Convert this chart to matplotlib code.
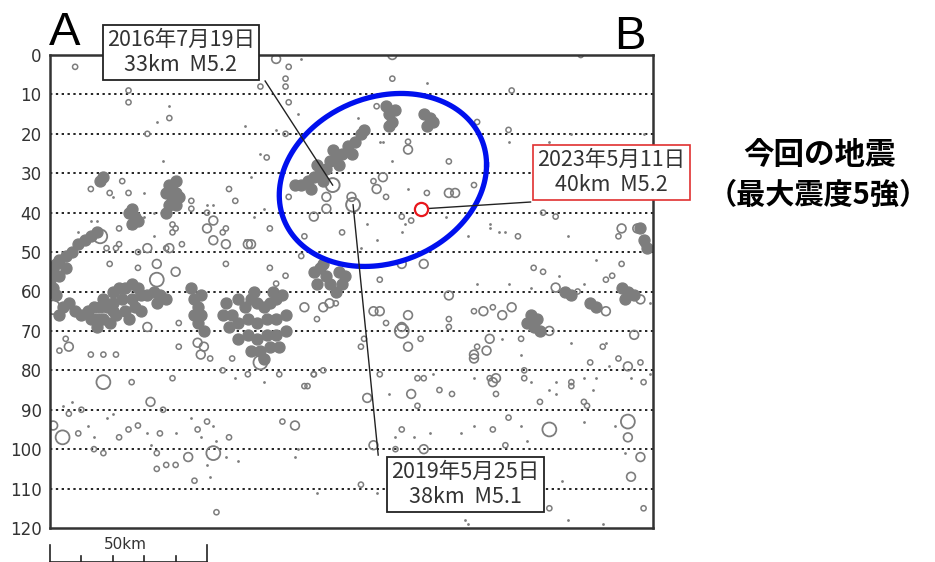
import numpy as np
import matplotlib.pyplot as plt

plt.rcParams['font.family'] = ['Noto Sans CJK JP', 'DejaVu Sans']

# ── hypocentres read off the cross-section (x: km from A, depth: km) ──
# micro events (tiny dots)
micro_x = [4, 7, 12, 14, 18, 20, 31, 32, 40, 45, 48, 50, 51, 52, 53, 56, 60, 68, 78, 79,
           85, 59, 108, 122, 104, 110, 116, 121, 135, 153, 159, 161, 161, 170, 174, 173, 185, 135, 131, 150,
           152, 170, 180, 183, 163, 165, 176, 132, 133, 34, 38, 36, 62, 67, 80, 72, 30, 20, 50, 52,
           68, 13, 15, 25, 9, 33, 30, 33, 62, 65, 64, 79, 120, 146, 166, 189, 159, 98, 106, 109,
           114, 105, 113, 112, 126, 133, 140, 101, 104, 99, 140, 143, 145, 165, 136, 146, 153, 162, 170, 174,
           191, 144, 150, 166, 177, 178, 191]
micro_depth = [89, 88, 94, 97, 92, 91, 96, 99, 96, 92, 97, 104, 107, 94, 98, 102, 103, 83, 102, 100,
               111, 82, 86, 81, 111, 97, 97, 96, 82, 83, 85, 83, 86, 82, 82, 85, 82, 94, 96, 94,
               98, 93, 94, 101, 108, 118, 119, 118, 119, 17, 13, 27, 18, 25, 1, 19, 35, 36, 38, 38,
               39, 42, 42, 44, 45, 40, 41, 46, 47, 41, 31, 15, 7, 22, 20, 20, 22, 16, 22, 27,
               34, 22, 43, 45, 41, 46, 44, 43, 47, 49, 43, 45, 45, 46, 58, 58, 59, 56, 58, 52,
               63, 72, 76, 73, 73, 79, 81]

# small events (open circles)
small_x = [8, 25, 25, 38, 31, 69, 67, 75, 75, 76, 75, 76, 109, 136, 146, 104, 114, 13, 23, 25,
           19, 57, 59, 45, 45, 76, 22, 39, 40, 39, 42, 37, 18, 21, 22, 28, 55, 56, 70, 50,
           19, 28, 56, 70, 75, 72, 80, 103, 107, 120, 135, 93, 81, 112, 115, 157, 181, 161, 149, 154,
           157, 177, 179, 182, 189, 141, 168, 184, 136, 150, 172, 176, 181, 188, 151, 166, 189, 85, 91, 105,
           107, 118, 127, 127, 135, 100, 99, 105, 117, 84, 81, 5, 3, 13, 17, 21, 26, 41, 41, 39,
           51, 55, 58, 63, 73, 82, 84, 87, 6, 9, 10, 14, 17, 22, 25, 28, 35, 36, 34, 34,
           37, 40, 47, 50, 46, 53, 57, 74, 119, 124, 117, 112, 110, 99, 140, 128, 142, 151, 156, 166,
           170, 171, 146, 141, 145, 159, 189, 127, 147, 169]
small_depth = [3, 9, 12, 16, 20, 26, 8, 6, 8, 12, 20, 3, 6, 17, 19, 13, 22, 34, 32, 35,
               35, 34, 37, 37, 39, 36, 44, 43, 44, 45, 48, 49, 49, 49, 48, 50, 45, 44, 44, 40,
               53, 54, 53, 54, 56, 58, 51, 32, 36, 35, 33, 45, 46, 41, 42, 40, 46, 41, 46, 54,
               55, 57, 56, 53, 48, 64, 60, 60, 74, 72, 78, 74, 77, 78, 80, 83, 83, 67, 63, 57,
               68, 72, 67, 69, 65, 72, 74, 81, 82, 81, 84, 72, 75, 76, 76, 76, 83, 68, 74, 82,
               77, 80, 77, 81, 81, 84, 81, 80, 91, 96, 90, 100, 101, 97, 95, 94, 96, 90, 101, 105,
               104, 104, 95, 93, 108, 116, 97, 93, 82, 85, 89, 95, 100, 109, 82, 86, 86, 82, 88, 84,
               88, 89, 92, 95, 99, 115, 115, 27, 9, 0]

# medium events
mid_x = [72, 109, 114, 106, 104, 129, 96, 88, 88, 84, 112, 119, 127, 187, 138, 144, 147, 161, 177, 188,
         140, 135, 139, 159, 184, 186, 141, 81, 87, 89, 103, 105, 114, 112, 114, 127, 135, 6, 31, 34,
         40, 47, 49, 48, 68, 32, 1, 44, 78, 101, 115, 103, 119, 142, 184, 188, 185, 52, 56, 64,
         31, 38, 52, 50, 63, 182]
mid_depth = [1, 0, 24, 31, 34, 35, 36, 36, 39, 41, 53, 53, 35, 44, 65, 66, 64, 59, 65, 62,
             72, 76, 75, 70, 79, 71, 83, 64, 64, 63, 65, 65, 66, 69, 74, 61, 77, 74, 69, 53,
             55, 73, 74, 76, 77, 88, 94, 102, 94, 87, 86, 99, 100, 82, 97, 102, 107, 47, 48, 48,
             49, 49, 42, 44, 48, 44]

# larger events
large_x = [16, 34, 17, 67, 4, 52, 112, 159, 184, 1]
large_depth = [46, 57, 83, 78, 97, 101, 70, 95, 93, 64]

# dense swarms (overlapping symbols, drawn as solid grey)
swarm_x = [56, 58, 60, 62, 64, 66, 68, 70, 72, 57, 60, 63, 66, 69, 72, 75, 60, 63, 66, 69,
           72, 75, 64, 67, 70, 73, 68, 65, 71, 55, 74,
           20, 22, 24, 26, 28, 20, 23, 26, 29, 21, 24, 27, 29, 25,
           12, 14, 16, 18, 20, 13, 15, 17, 19, 15, 10, 17, 4, 6, 8, 3,
           0, 1, 2, 3, 5, 7, 9, 11, 13, 15, 1, 3, 5, 0, 2,
           31, 33, 35, 37, 34, 45, 46, 47, 48, 47, 49, 46, 48,
           37, 38, 39, 40, 41, 39, 38, 40, 37, 40, 25, 26, 27, 28, 26, 16, 17,
           78, 80, 82, 84, 86, 88, 85, 89, 91, 93, 95, 97, 99, 96, 92, 87, 83, 100, 90,
           107, 108, 109, 108, 110, 119, 121, 122, 120,
           84, 86, 88, 85, 89, 92, 94, 93, 91, 87,
           153, 155, 154, 156, 152, 164, 166, 172, 174, 182, 184, 186, 183, 188, 189, 190]
swarm_depth = [63, 66, 62, 64, 62, 63, 64, 63, 62, 69, 68, 67, 68, 67, 67, 66, 72, 71, 72, 71,
               71, 70, 75, 75, 74, 74, 77, 60, 60, 66, 61,
               60, 59, 59, 58, 59, 63, 62, 62, 61, 66, 65, 64, 65, 67,
               65, 64, 64, 64, 65, 67, 67, 67, 68, 69, 66, 62, 64, 63, 65, 66,
               57, 55, 53, 52, 51, 50, 48, 47, 46, 45, 59, 56, 54, 60, 61,
               61, 60, 61, 62, 63, 59, 62, 64, 66, 68, 70, 66, 61,
               35, 33, 34, 35, 36, 37, 38, 38, 40, 32, 40, 39, 41, 42, 43, 32, 31,
               33, 33, 32, 31, 30, 29, 28, 27, 26, 25, 23, 22, 20, 25, 28, 32, 34, 19, 24,
               13, 15, 17, 18, 14, 15, 16, 17, 18,
               55, 54, 56, 58, 58, 55, 56, 58, 60, 53,
               66, 67, 69, 70, 68, 60, 61, 63, 64, 59, 60, 61, 62, 44, 47, 49]

# labelled events: x, depth
ev2016 = (90, 33)
ev2019 = (96.5, 38)
ev2023 = (118, 39)

depth_ticks = list(range(0, 121, 10))
grid_depths = list(range(10, 111, 10))
scale_ticks = [0, 10, 20, 30, 40, 50]

grey = '#7d7d7d'

fig = plt.figure(figsize=(9.35, 5.62), dpi=100)
ax = fig.add_axes([50 / 935, 34 / 562, 603 / 935, 473 / 562])
ax.set_xlim(0, 192)
ax.set_ylim(120, 0)

for d in grid_depths:
    ax.axhline(d, color='#222222', lw=1.4, ls=(0, (1.2, 1.8)), zorder=1)

ax.scatter(swarm_x, swarm_depth, s=62, c=grey, edgecolors=grey, lw=1, zorder=2)
ax.scatter(micro_x, micro_depth, s=4, c=grey, lw=0, zorder=2)
ax.scatter(small_x, small_depth, s=14, facecolors='none', edgecolors=grey, lw=1.1, zorder=2)
ax.scatter(mid_x, mid_depth, s=40, facecolors='none', edgecolors=grey, lw=1.2, zorder=2)
ax.scatter(large_x, large_depth, s=100, facecolors='none', edgecolors=grey, lw=1.3, zorder=2)
ax.scatter([ev2016[0], ev2019[0]], [ev2016[1], ev2019[1]], s=100,
           facecolors='none', edgecolors=grey, lw=1.4, zorder=3)

# blue focus ellipse (slightly tilted)
t = np.linspace(0, 2 * np.pi, 300)
ex = 106 + 33 * np.cos(t)
ez = 31.7 + 21.6 * np.sin(t) - 0.117 * (ex - 106)
ax.plot(ex, ez, color='#0010ee', lw=3.8, zorder=4)

ax.scatter([ev2023[0]], [ev2023[1]], s=90, facecolors='white', edgecolors='#e8161b', lw=1.6, zorder=5)

# leader lines
ax.plot([68.5, ev2016[0]], [6.6, ev2016[1]], color='#222222', lw=1, zorder=4, clip_on=False)
ax.plot([ev2019[0], 104.5], [ev2019[1], 101.5], color='#222222', lw=1, zorder=4, clip_on=False)
ax.plot([ev2023[0] + 1.3, 153], [ev2023[1], 37.3], color='#222222', lw=1, zorder=4, clip_on=False)

box_kw = dict(fontsize=15.5, ha='center', va='center', color='#333333', linespacing=1.15, zorder=6)
ax.text(41.7, -0.7, '2016年7月19日\n33km  M5.2',
        bbox=dict(boxstyle='square,pad=0.2', fc='white', ec='#222222', lw=1.3), **box_kw)
ax.text(132.3, 108.9, '2019年5月25日\n38km  M5.1',
        bbox=dict(boxstyle='square,pad=0.2', fc='white', ec='#222222', lw=1.3), **box_kw)
ax.text(178.8, 29.8, '2023年5月11日\n40km  M5.2',
        bbox=dict(boxstyle='square,pad=0.2', fc='white', ec='#e03030', lw=1.2), **box_kw)

ax.set_xticks([])
ax.set_yticks(depth_ticks)
ax.set_yticklabels([str(d) for d in depth_ticks], family='DejaVu Sans', fontsize=12, color='#333333')
ax.tick_params(axis='y', length=0, pad=6)
for sp in ax.spines.values():
    sp.set_color('#333333')
    sp.set_linewidth(1.8)

# 50 km scale bar below the section
for xt in scale_ticks:
    top = 124.4 if xt in (0, 50) else 127.0
    ax.plot([xt, xt], [top, 128.9], color='#222222', lw=1.2, clip_on=False)
ax.plot([0, 50], [128.6, 128.6], color='#222222', lw=1.2, clip_on=False)
ax.text(24, 124.2, '50km', family='DejaVu Sans', fontsize=11, ha='center', va='center', color='#333333')

fig.text(65 / 935, 1 - 33 / 562, 'A', family='Liberation Sans', fontsize=34, ha='center', va='center')
fig.text(630 / 935, 1 - 37 / 562, 'B', family='Liberation Sans', fontsize=34, ha='center', va='center')
fig.text(820 / 935, 1 - 155 / 562, '今回の地震', fontsize=22, fontweight='bold', ha='center', va='center')
fig.text(818 / 935, 1 - 195 / 562, '（最大震度5強）', fontsize=21, fontweight='bold', ha='center', va='center')

fig.savefig('out.png', dpi=100)
